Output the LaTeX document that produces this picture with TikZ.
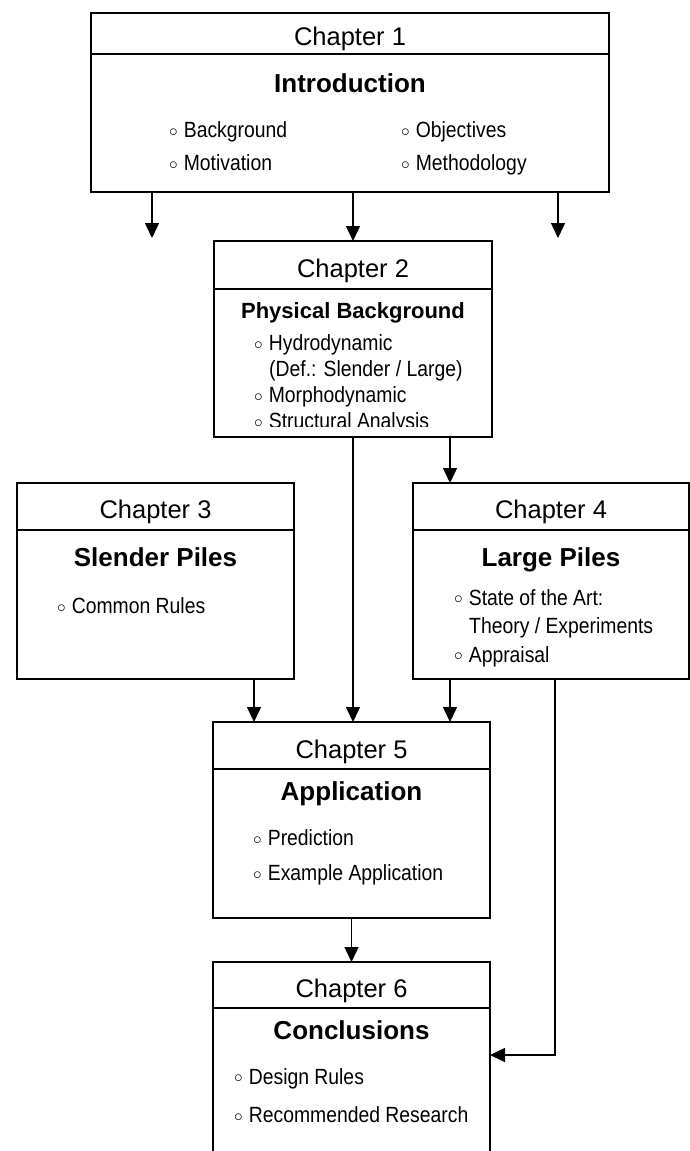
\documentclass[tikz,border=0pt]{standalone}
\usepackage{fontspec}
\setmainfont{Liberation Sans}
\newfontfamily\itemfont[FakeStretch=0.88]{Liberation Sans}
\usetikzlibrary{arrows.meta}

\newcommand{\bul}{\raisebox{1.6pt}{\fontsize{16}{16}\selectfont$\circ$}\hspace{6pt}}

\tikzset{
  chbox/.style={draw, line width=1.8pt, inner sep=0pt, outer sep=0pt, anchor=north west},
  divline/.style={line width=1.5pt},
  chhead/.style={font=\fontsize{25.5}{30}\selectfont, inner sep=0pt,
                 text height=18.4pt, text depth=0pt},
  chtitle/.style={font=\bfseries\fontsize{26}{30}\selectfont, inner sep=0pt,
                  text height=18.7pt, text depth=0pt},
  chitem/.style={font=\itemfont\fontsize{22}{26}\selectfont, anchor=west,
                 inner sep=0pt, text height=15.8pt, text depth=0pt},
  arr/.style={line width=1.4pt, -{Triangle[width=14pt,length=15pt]}}
}

\begin{document}
\begin{tikzpicture}[x=1pt, y=-1pt]

  \useasboundingbox (0,0) rectangle (690,1151);
  \clip (0,0) rectangle (690,1151);

  % --- Chapter 1 ---
  \node[chbox, minimum width=518pt, minimum height=179pt] (c1) at (91,13) {};
  \draw[divline] ([yshift=-41pt]c1.north west) -- ([yshift=-41pt]c1.north east);
  \node[chhead]  (c1h) at (350,36.5) {Chapter 1};
  \node[chtitle] (c1t) at (350,83) {Introduction};
  \node[chitem]  (c1a) at (169,130) {\bul Background};
  \node[chitem]  (c1b) at (169,163) {\bul Motivation};
  \node[chitem]  (c1c) at (401,130) {\bul Objectives};
  \node[chitem]  (c1d) at (401,163) {\bul Methodology};

  % --- Chapter 2 (text cut off at the bottom) ---
  \node[chbox, minimum width=278pt, minimum height=196pt] (c2) at (214,241) {};
  \draw[divline] ([yshift=-48pt]c2.north west) -- ([yshift=-48pt]c2.north east);
  \node[chhead] (c2h) at (353,268.5) {Chapter 2};
  \node[chtitle, font=\bfseries\fontsize{22}{26}\selectfont, text height=15.8pt] (c2t) at (353,311) {Physical Background};
  \begin{scope}
    \clip (214,290) rectangle (492,426);
    \node[chitem] (c2a) at (254,343) {\bul Hydrodynamic};
    \node[chitem] (c2b) at (269,369) {(Def.: Slender / Large)};
    \node[chitem] (c2c) at (254,395) {\bul Morphodynamic};
    \node[chitem] (c2d) at (254,421) {\bul Structural Analysis};
  \end{scope}

  % --- Chapter 3 ---
  \node[chbox, minimum width=277pt, minimum height=196pt] (c3) at (17,483) {};
  \draw[divline] ([yshift=-47pt]c3.north west) -- ([yshift=-47pt]c3.north east);
  \node[chhead]  (c3h) at (155.5,509.5) {Chapter 3};
  \node[chtitle] (c3t) at (155.5,557.5) {Slender Piles};
  \node[chitem]  (c3a) at (57,606) {\bul Common Rules};

  % --- Chapter 4 ---
  \node[chbox, minimum width=276pt, minimum height=196pt] (c4) at (413,483) {};
  \draw[divline] ([yshift=-47pt]c4.north west) -- ([yshift=-47pt]c4.north east);
  \node[chhead]  (c4h) at (551,509.5) {Chapter 4};
  \node[chtitle] (c4t) at (551,557.5) {Large Piles};
  \node[chitem]  (c4a) at (454,597.5) {\bul State of the Art:};
  \node[chitem]  (c4b) at (469,626) {Theory / Experiments};
  \node[chitem]  (c4c) at (454,654.5) {\bul Appraisal};

  % --- Chapter 5 ---
  \node[chbox, minimum width=277pt, minimum height=196pt] (c5) at (213,722) {};
  \draw[divline] ([yshift=-47pt]c5.north west) -- ([yshift=-47pt]c5.north east);
  \node[chhead]  (c5h) at (351.5,749) {Chapter 5};
  \node[chtitle] (c5t) at (351.5,791) {Application};
  \node[chitem]  (c5a) at (253,838) {\bul Prediction};
  \node[chitem]  (c5b) at (253,873) {\bul Example Application};

  % --- Chapter 6 (runs past the lower edge) ---
  \node[chbox, minimum width=277pt, minimum height=260pt] (c6) at (213,962) {};
  \draw[divline] ([yshift=-46pt]c6.north west) -- ([yshift=-46pt]c6.north east);
  \node[chhead]  (c6h) at (351.5,988) {Chapter 6};
  \node[chtitle] (c6t) at (351.5,1030.5) {Conclusions};
  \node[chitem]  (c6a) at (234,1076.5) {\bul Design Rules};
  \node[chitem]  (c6b) at (234,1115) {\bul Recommended Research};

  % --- arrows ---
  \coordinate (o1) at (152,238);
  \coordinate (o2) at (558,238);
  \coordinate (k3) at ([xshift=-40pt]c3.south east);
  \coordinate (k4) at ([xshift=37pt]c4.south west);
  \coordinate (k5) at ([xshift=142pt]c4.south west);

  \draw[arr] (c1.south -| o1) -- (o1);
  \draw[arr] (c1.south -| o2) -- (o2);
  \draw[arr] (c1.south -| c2.north) -- (c2.north);
  \draw[arr] (c2.south) -- (c2.south |- c5.north);
  \draw[arr] ([xshift=-42pt]c2.south east) -- ([xshift=37pt]c4.north west);
  \draw[arr] (k3) -- (k3 |- c5.north);
  \draw[arr] (k4) -- (k4 |- c5.north);
  \draw[arr] (c5.south) -- (c6.north);
  \draw[arr] (k5) |- ([yshift=-93pt]c6.north east);

\end{tikzpicture}
\end{document}
